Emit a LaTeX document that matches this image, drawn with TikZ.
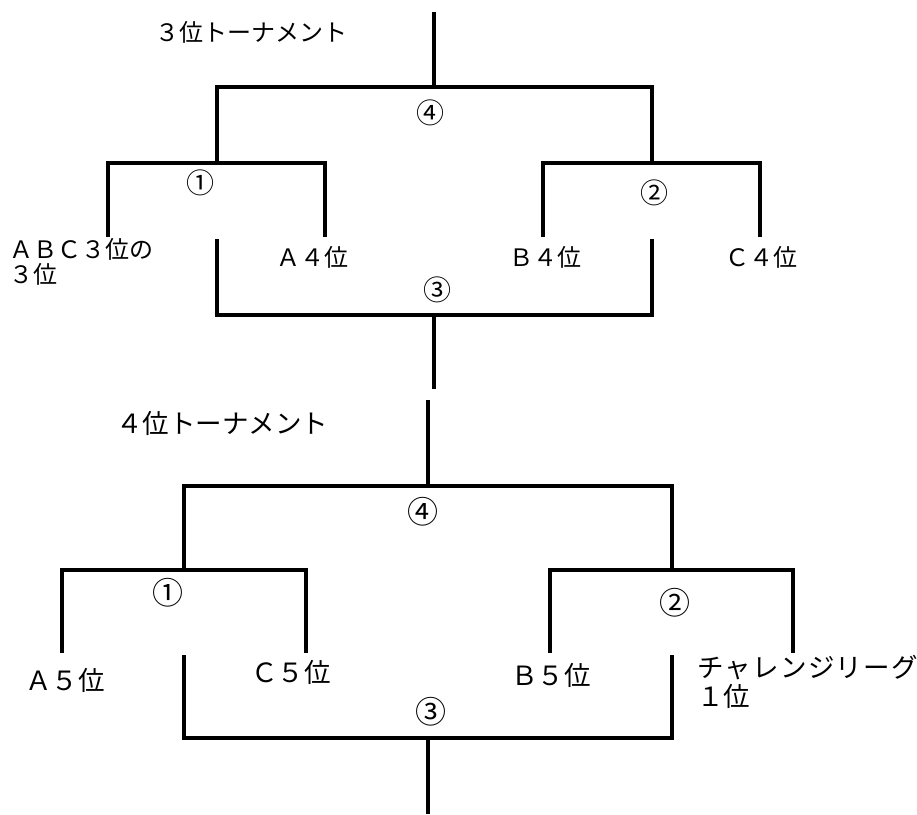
\documentclass[tikz,border=0pt]{standalone}
\usepackage{fontspec}
\newfontfamily\jp{Noto Sans CJK JP}
\begin{document}
\begin{tikzpicture}[x=1pt,y=1pt,
  bline/.style={line width=4pt, line join=miter, black},
  lbl/.style={font=\jp\fontsize{24}{25}\selectfont, inner sep=0pt},
  lblb/.style={font=\jp\fontsize{26.5}{29}\selectfont, inner sep=0pt},
  num/.style={font=\jp\fontsize{28}{30}\selectfont, inner sep=0pt},
  numb/.style={font=\jp\fontsize{31}{33}\selectfont, inner sep=0pt}]
\useasboundingbox (0,0) rectangle (917,-814);
% ---------- top bracket ----------
\coordinate (ta) at (434,-12);
\coordinate (tb) at (434,-87);
\coordinate (t4l) at (217,-87);
\coordinate (t4r) at (652,-87);
\coordinate (t1t) at (217,-163);
\coordinate (t1l) at (108,-163);
\coordinate (t1r) at (325,-163);
\coordinate (t1lb) at (108,-237);
\coordinate (t1rb) at (325,-237);
\coordinate (t2t) at (652,-163);
\coordinate (t2l) at (543,-163);
\coordinate (t2r) at (760,-163);
\coordinate (t2lb) at (543,-237);
\coordinate (t2rb) at (760,-237);
\coordinate (t3lt) at (217,-239);
\coordinate (t3lb) at (217,-315);
\coordinate (t3rb) at (652,-315);
\coordinate (t3rt) at (652,-239);
\coordinate (t3m) at (434,-315);
\coordinate (t3e) at (434,-389);
\draw[bline] (ta) -- (tb);
\draw[bline] (t1t) -- (t4l) -- (t4r) -- (t2t);
\draw[bline] (t1lb) -- (t1l) -- (t1r) -- (t1rb);
\draw[bline] (t2lb) -- (t2l) -- (t2r) -- (t2rb);
\draw[bline] (t3lt) -- (t3lb) -- (t3rb) -- (t3rt);
\draw[bline] (t3m) -- (t3e);
\node[lbl] (title1) at (251,-32) {３位トーナメント};
\node[num] (tn4) at (430,-113) {④};
\node[num] (tn1) at (200,-183) {①};
\node[num] (tn2) at (654,-193) {②};
\node[num] (tn3) at (437,-290) {③};
\node[lbl, anchor=west, align=left] (abc) at (9,-262) {ＡＢＣ３位の\\３位};
\node[lbl] (a4) at (312,-257) {Ａ４位};
\node[lbl] (b4) at (545,-257) {Ｂ４位};
\node[lbl] (c4) at (761,-257) {Ｃ４位};
% ---------- bottom bracket ----------
\coordinate (ba) at (428,-400);
\coordinate (bb) at (428,-486);
\coordinate (b4l) at (184,-486);
\coordinate (b4r) at (672,-486);
\coordinate (b1t) at (184,-570);
\coordinate (b1l) at (62,-570);
\coordinate (b1r) at (306,-570);
\coordinate (b1lb) at (62,-653);
\coordinate (b1rb) at (306,-653);
\coordinate (b2t) at (672,-570);
\coordinate (b2l) at (550,-570);
\coordinate (b2r) at (793,-570);
\coordinate (b2lb) at (550,-653);
\coordinate (b2rb) at (793,-653);
\coordinate (b3lt) at (184,-655);
\coordinate (b3lb) at (184,-738);
\coordinate (b3rb) at (672,-738);
\coordinate (b3rt) at (672,-655);
\coordinate (b3m) at (428,-738);
\coordinate (b3e) at (428,-814);
\draw[bline] (ba) -- (bb);
\draw[bline] (b1t) -- (b4l) -- (b4r) -- (b2t);
\draw[bline] (b1lb) -- (b1l) -- (b1r) -- (b1rb);
\draw[bline] (b2lb) -- (b2l) -- (b2r) -- (b2rb);
\draw[bline] (b3lt) -- (b3lb) -- (b3rb) -- (b3rt);
\draw[bline] (b3m) -- (b3e);
\node[lblb] (title2) at (222,-423) {４位トーナメント};
\node[numb] (bn4) at (423,-512) {④};
\node[numb] (bn1) at (168,-593) {①};
\node[numb] (bn2) at (675,-603) {②};
\node[numb] (bn3) at (431,-712) {③};
\node[lblb] (a5) at (65,-680) {Ａ５位};
\node[lblb] (c5) at (291,-672) {Ｃ５位};
\node[lblb] (b5) at (551,-675) {Ｂ５位};
\node[lblb, anchor=west, align=left] (cl) at (697,-682) {チ\hspace{1.2pt}ャ\hspace{1.2pt}レ\hspace{1.2pt}ン\hspace{1.2pt}ジ\hspace{1.2pt}リ\hspace{1.2pt}ー\hspace{1.2pt}グ\\１位};
\end{tikzpicture}
\end{document}
